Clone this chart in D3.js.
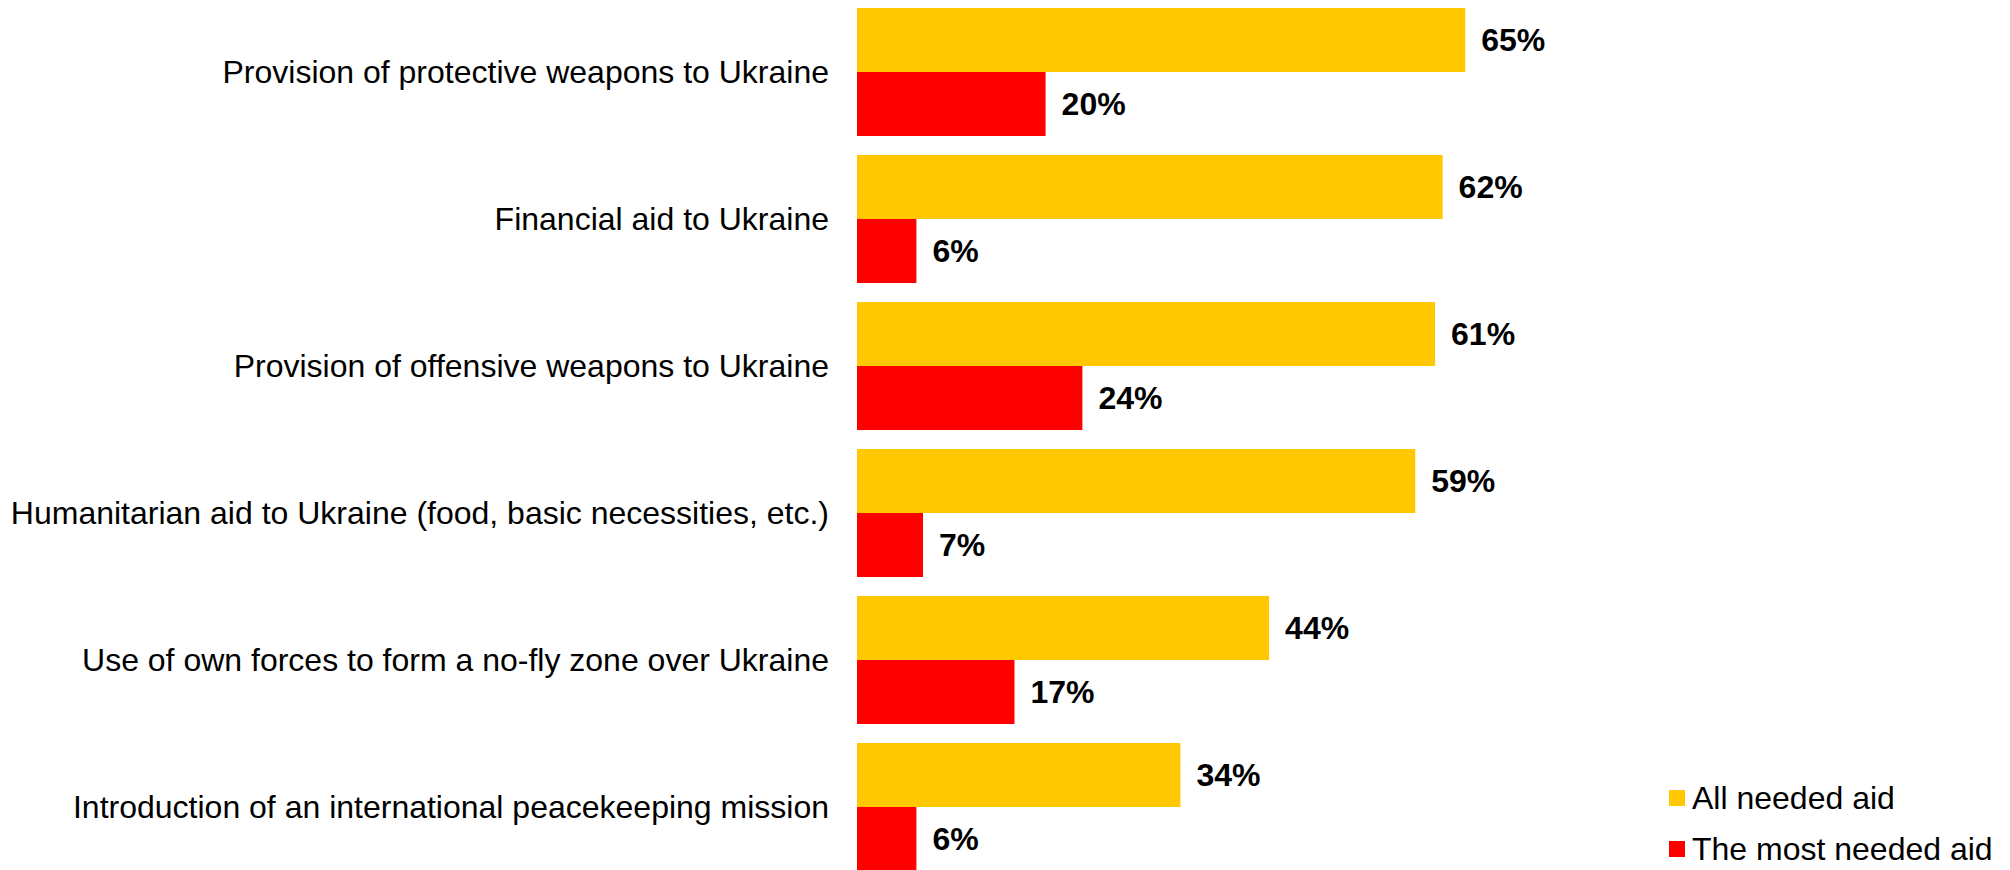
<!DOCTYPE html>
<html>
<head>
<meta charset="utf-8">
<script src="https://cdn.jsdelivr.net/npm/d3@7"></script>
<style>
  body { margin: 0; background: #fff; }
  text { font-family: "Liberation Sans", Arial, sans-serif; }
</style>
</head>
<body>
<div id="chart"></div>
<script>
// categories, top to bottom
var categories = [
    "Provision of protective weapons to Ukraine",
    "Financial aid to Ukraine",
    "Provision of offensive weapons to Ukraine",
    "Humanitarian aid to Ukraine (food, basic necessities, etc.)",
    "Use of own forces to form a no-fly zone over Ukraine",
    "Introduction of an international peacekeeping mission"
];
var seriesNames = ["All needed aid", "The most needed aid"];
var allNeeded = [64.5, 62.1, 61.3, 59.2, 43.7, 34.3];
var mostNeeded = [20.0, 6.3, 23.9, 7.0, 16.7, 6.3];
var colors = ["#FFC800", "#FF0000"];

var width = 2010, height = 870;
var x0 = 857;

var svg = d3.select("#chart")
    .append("svg")
    .attr("width", width)
    .attr("height", height);

// horizontal scale, percent -> px
var x = d3.scaleLinear()
    .domain([0, 100])
    .range([0, 943]);

// one band per category, two bars inside each band
var y = d3.scaleBand()
    .domain(categories)
    .range([8, 871])
    .paddingInner(19 / 147)
    .paddingOuter(0);

var ySub = d3.scaleBand()
    .domain(seriesNames)
    .range([0, y.bandwidth()]);

var rows = categories.map(function(c, i) {
    return {cat: c, values: [
        {name: seriesNames[0], value: allNeeded[i]},
        {name: seriesNames[1], value: mostNeeded[i]}
    ]};
});

var groups = svg.selectAll(".group")
    .data(rows)
    .enter()
    .append("g")
    .attr("class", "group")
    .attr("transform", function(d) { return "translate(0," + y(d.cat) + ")"; });

// category labels
groups.append("text")
    .attr("x", x0 - 28)
    .attr("y", y.bandwidth() / 2)
    .attr("dy", "0.35em")
    .attr("text-anchor", "end")
    .style("font-size", "32px")
    .style("fill", "#000")
    .text(function(d) { return d.cat; });

// bars
groups.selectAll("rect")
    .data(function(d) { return d.values; })
    .enter()
    .append("rect")
    .attr("x", x0)
    .attr("y", function(d) { return ySub(d.name); })
    .attr("width", function(d) { return x(d.value); })
    .attr("height", ySub.bandwidth())
    .attr("fill", function(d, i) { return colors[i]; });

// value labels
groups.selectAll(".val")
    .data(function(d) { return d.values; })
    .enter()
    .append("text")
    .attr("class", "val")
    .attr("x", function(d) { return x0 + x(d.value) + 16; })
    .attr("y", function(d) { return ySub(d.name) + ySub.bandwidth() / 2; })
    .attr("dy", "0.35em")
    .style("font-size", "32px")
    .style("font-weight", "bold")
    .text(function(d) { return Math.round(d.value) + "%"; });

// legend
var legend = svg.selectAll(".legend")
    .data(seriesNames)
    .enter()
    .append("g")
    .attr("class", "legend")
    .attr("transform", function(d, i) { return "translate(1669," + (790 + i * 51) + ")"; });

legend.append("rect")
    .attr("width", 16)
    .attr("height", 16)
    .attr("fill", function(d, i) { return colors[i]; });

legend.append("text")
    .attr("x", 23)
    .attr("y", 19)
    .style("font-size", "32px")
    .text(function(d) { return d; });
</script>
</body>
</html>
